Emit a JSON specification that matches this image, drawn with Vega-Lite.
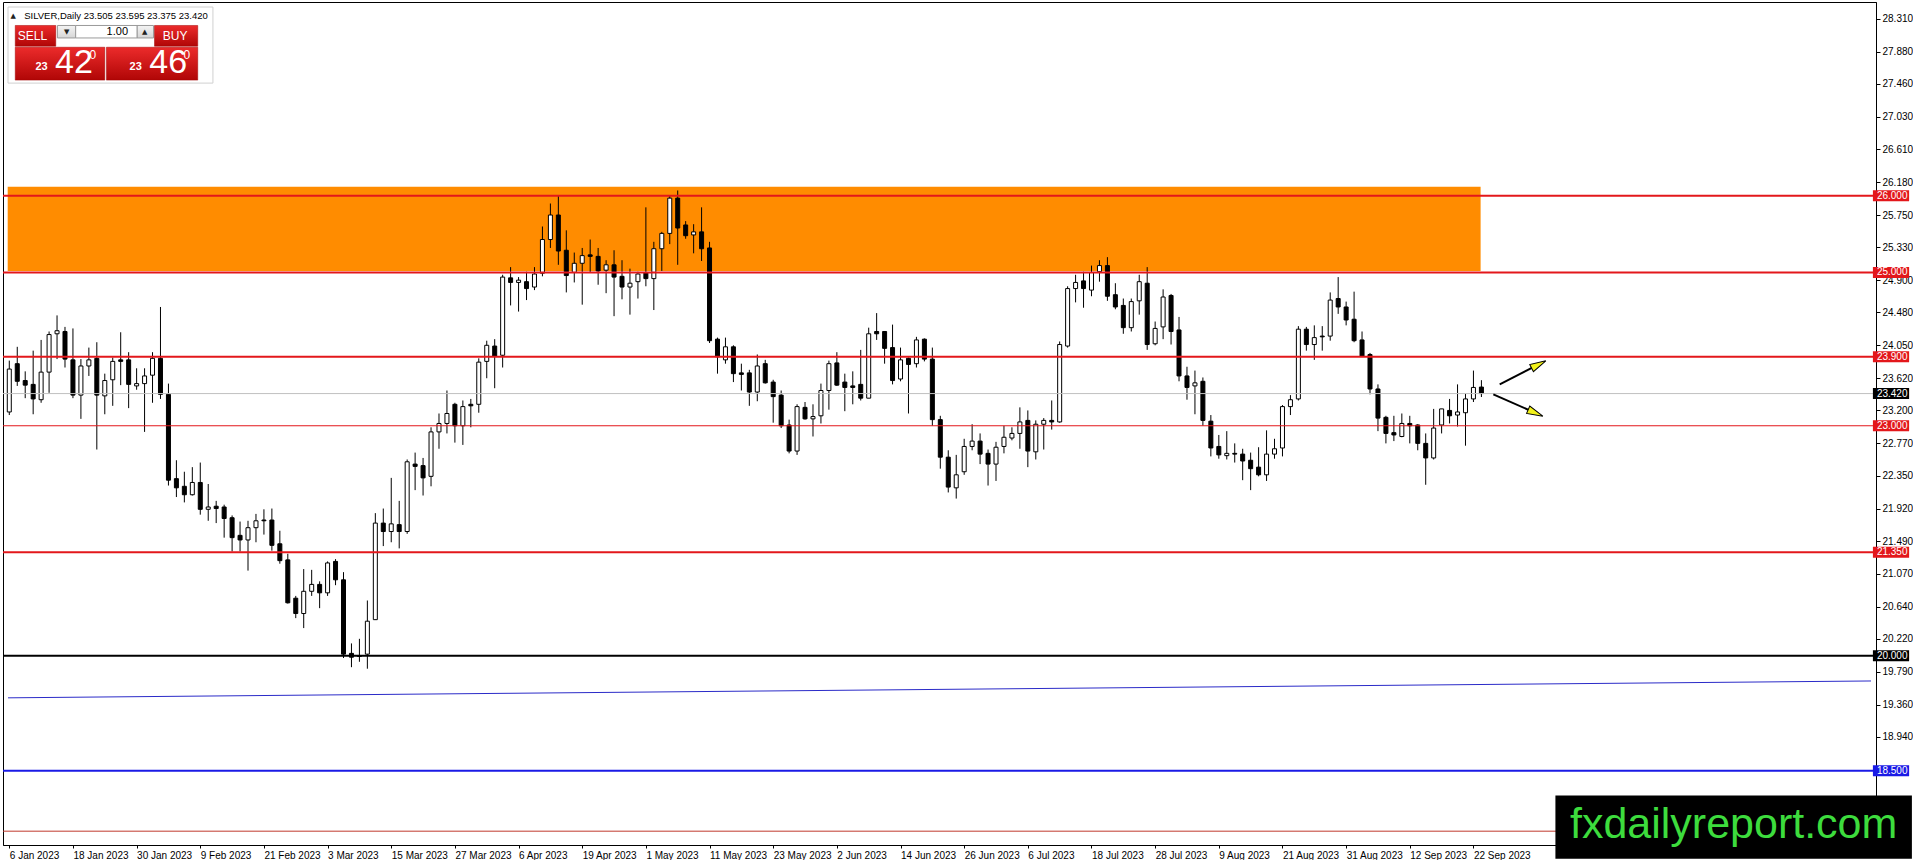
{
  "$schema": "https://vega.github.io/schema/vega-lite/v6.json",
  "width": 1873,
  "height": 843,
  "padding": {"left": 2, "top": 2, "right": 0, "bottom": 0},
  "background": "#ffffff",
  "config": {
    "view": {"stroke": "#000000", "strokeWidth": 1},
    "axis": {"labelFont": "Liberation Sans", "titleFont": "Liberation Sans", "labelOverlap": false, "labelFlush": false},
    "text": {"font": "Liberation Sans"}
  },
  "datasets": {
    "bars": [
      {"i":0,"d":"2023-01-06","o":23.18,"h":23.85,"l":23.14,"c":23.74},
      {"i":1,"d":"2023-01-09","o":23.81,"h":24.03,"l":23.52,"c":23.58},
      {"i":2,"d":"2023-01-10","o":23.59,"h":23.71,"l":23.36,"c":23.53},
      {"i":3,"d":"2023-01-11","o":23.54,"h":23.98,"l":23.15,"c":23.35},
      {"i":4,"d":"2023-01-12","o":23.34,"h":24.12,"l":23.30,"c":23.70},
      {"i":5,"d":"2023-01-13","o":23.70,"h":24.23,"l":23.43,"c":24.19},
      {"i":6,"d":"2023-01-16","o":24.20,"h":24.44,"l":23.87,"c":24.24},
      {"i":7,"d":"2023-01-17","o":24.23,"h":24.29,"l":23.76,"c":23.87},
      {"i":8,"d":"2023-01-18","o":23.86,"h":24.27,"l":23.36,"c":23.40},
      {"i":9,"d":"2023-01-19","o":23.40,"h":23.87,"l":23.09,"c":23.78},
      {"i":10,"d":"2023-01-20","o":23.78,"h":24.02,"l":23.65,"c":23.86},
      {"i":11,"d":"2023-01-23","o":23.88,"h":24.09,"l":22.69,"c":23.40},
      {"i":12,"d":"2023-01-24","o":23.39,"h":23.68,"l":23.15,"c":23.59},
      {"i":13,"d":"2023-01-25","o":23.60,"h":23.89,"l":23.26,"c":23.84},
      {"i":14,"d":"2023-01-26","o":23.86,"h":24.22,"l":23.53,"c":23.84},
      {"i":15,"d":"2023-01-27","o":23.86,"h":23.96,"l":23.23,"c":23.54},
      {"i":16,"d":"2023-01-30","o":23.52,"h":23.75,"l":23.47,"c":23.55},
      {"i":17,"d":"2023-01-31","o":23.55,"h":23.75,"l":22.92,"c":23.65},
      {"i":18,"d":"2023-02-01","o":23.66,"h":23.96,"l":23.30,"c":23.88},
      {"i":19,"d":"2023-02-02","o":23.88,"h":24.55,"l":23.35,"c":23.41},
      {"i":20,"d":"2023-02-03","o":23.41,"h":23.55,"l":22.22,"c":22.29},
      {"i":21,"d":"2023-02-06","o":22.31,"h":22.55,"l":22.07,"c":22.19},
      {"i":22,"d":"2023-02-07","o":22.21,"h":22.40,"l":22.00,"c":22.10},
      {"i":23,"d":"2023-02-08","o":22.10,"h":22.46,"l":22.09,"c":22.26},
      {"i":24,"d":"2023-02-09","o":22.26,"h":22.52,"l":21.84,"c":21.91},
      {"i":25,"d":"2023-02-10","o":21.91,"h":22.24,"l":21.76,"c":21.94},
      {"i":26,"d":"2023-02-13","o":21.95,"h":22.02,"l":21.73,"c":21.92},
      {"i":27,"d":"2023-02-14","o":21.94,"h":21.97,"l":21.54,"c":21.79},
      {"i":28,"d":"2023-02-15","o":21.80,"h":21.83,"l":21.36,"c":21.54},
      {"i":29,"d":"2023-02-16","o":21.57,"h":21.75,"l":21.36,"c":21.51},
      {"i":30,"d":"2023-02-17","o":21.51,"h":21.76,"l":21.11,"c":21.67},
      {"i":31,"d":"2023-02-20","o":21.67,"h":21.85,"l":21.48,"c":21.76},
      {"i":32,"d":"2023-02-21","o":21.77,"h":21.91,"l":21.58,"c":21.76},
      {"i":33,"d":"2023-02-22","o":21.77,"h":21.92,"l":21.37,"c":21.44},
      {"i":34,"d":"2023-02-23","o":21.46,"h":21.63,"l":21.20,"c":21.24},
      {"i":35,"d":"2023-02-24","o":21.25,"h":21.33,"l":20.68,"c":20.69},
      {"i":36,"d":"2023-02-27","o":20.75,"h":20.78,"l":20.49,"c":20.55},
      {"i":37,"d":"2023-02-28","o":20.55,"h":21.13,"l":20.36,"c":20.84},
      {"i":38,"d":"2023-03-01","o":20.84,"h":21.12,"l":20.78,"c":20.93},
      {"i":39,"d":"2023-03-02","o":20.93,"h":20.97,"l":20.62,"c":20.82},
      {"i":40,"d":"2023-03-03","o":20.82,"h":21.23,"l":20.78,"c":21.21},
      {"i":41,"d":"2023-03-06","o":21.23,"h":21.26,"l":20.92,"c":20.99},
      {"i":42,"d":"2023-03-07","o":20.99,"h":21.09,"l":19.97,"c":20.02},
      {"i":43,"d":"2023-03-08","o":20.03,"h":20.16,"l":19.85,"c":19.98},
      {"i":44,"d":"2023-03-09","o":20.00,"h":20.22,"l":19.92,"c":19.99},
      {"i":45,"d":"2023-03-10","o":20.02,"h":20.72,"l":19.83,"c":20.45},
      {"i":46,"d":"2023-03-13","o":20.47,"h":21.86,"l":20.47,"c":21.73},
      {"i":47,"d":"2023-03-14","o":21.73,"h":21.92,"l":21.43,"c":21.62},
      {"i":48,"d":"2023-03-15","o":21.62,"h":22.32,"l":21.48,"c":21.72},
      {"i":49,"d":"2023-03-16","o":21.71,"h":22.02,"l":21.40,"c":21.62},
      {"i":50,"d":"2023-03-17","o":21.62,"h":22.56,"l":21.59,"c":22.53},
      {"i":51,"d":"2023-03-20","o":22.50,"h":22.65,"l":22.16,"c":22.47},
      {"i":52,"d":"2023-03-21","o":22.48,"h":22.58,"l":22.09,"c":22.32},
      {"i":53,"d":"2023-03-22","o":22.34,"h":22.98,"l":22.21,"c":22.92},
      {"i":54,"d":"2023-03-23","o":22.92,"h":23.16,"l":22.70,"c":23.03},
      {"i":55,"d":"2023-03-24","o":23.03,"h":23.46,"l":22.90,"c":23.16},
      {"i":56,"d":"2023-03-27","o":23.28,"h":23.30,"l":22.78,"c":23.00},
      {"i":57,"d":"2023-03-28","o":23.00,"h":23.33,"l":22.75,"c":23.25},
      {"i":58,"d":"2023-03-29","o":23.28,"h":23.35,"l":22.98,"c":23.26},
      {"i":59,"d":"2023-03-30","o":23.28,"h":23.88,"l":23.17,"c":23.83},
      {"i":60,"d":"2023-03-31","o":23.84,"h":24.11,"l":23.62,"c":24.05},
      {"i":61,"d":"2023-04-03","o":24.04,"h":24.13,"l":23.49,"c":23.91},
      {"i":62,"d":"2023-04-04","o":23.92,"h":24.97,"l":23.76,"c":24.94},
      {"i":63,"d":"2023-04-05","o":24.93,"h":25.07,"l":24.57,"c":24.87},
      {"i":64,"d":"2023-04-06","o":24.87,"h":24.94,"l":24.49,"c":24.90},
      {"i":65,"d":"2023-04-10","o":24.88,"h":25.01,"l":24.64,"c":24.79},
      {"i":66,"d":"2023-04-11","o":24.81,"h":25.07,"l":24.77,"c":24.98},
      {"i":67,"d":"2023-04-12","o":24.99,"h":25.60,"l":24.95,"c":25.43},
      {"i":68,"d":"2023-04-13","o":25.43,"h":25.90,"l":25.32,"c":25.75},
      {"i":69,"d":"2023-04-14","o":25.75,"h":26.01,"l":25.10,"c":25.28},
      {"i":70,"d":"2023-04-17","o":25.29,"h":25.55,"l":24.74,"c":24.96},
      {"i":71,"d":"2023-04-18","o":25.00,"h":25.26,"l":24.87,"c":25.12},
      {"i":72,"d":"2023-04-19","o":25.12,"h":25.32,"l":24.58,"c":25.22},
      {"i":73,"d":"2023-04-20","o":25.23,"h":25.43,"l":25.00,"c":25.21},
      {"i":74,"d":"2023-04-21","o":25.21,"h":25.32,"l":24.84,"c":25.02},
      {"i":75,"d":"2023-04-24","o":25.03,"h":25.16,"l":24.73,"c":25.10},
      {"i":76,"d":"2023-04-25","o":25.10,"h":25.29,"l":24.43,"c":24.94},
      {"i":77,"d":"2023-04-26","o":24.95,"h":25.16,"l":24.65,"c":24.81},
      {"i":78,"d":"2023-04-27","o":24.81,"h":25.05,"l":24.45,"c":24.86},
      {"i":79,"d":"2023-04-28","o":24.88,"h":25.01,"l":24.66,"c":24.98},
      {"i":80,"d":"2023-05-01","o":25.00,"h":25.85,"l":24.82,"c":24.92},
      {"i":81,"d":"2023-05-02","o":24.92,"h":25.40,"l":24.51,"c":25.31},
      {"i":82,"d":"2023-05-03","o":25.31,"h":25.53,"l":25.02,"c":25.51},
      {"i":83,"d":"2023-05-04","o":25.51,"h":26.00,"l":25.37,"c":25.97},
      {"i":84,"d":"2023-05-05","o":25.97,"h":26.07,"l":25.10,"c":25.58},
      {"i":85,"d":"2023-05-08","o":25.62,"h":25.67,"l":25.44,"c":25.48},
      {"i":86,"d":"2023-05-09","o":25.49,"h":25.63,"l":25.25,"c":25.53},
      {"i":87,"d":"2023-05-10","o":25.53,"h":25.85,"l":25.15,"c":25.31},
      {"i":88,"d":"2023-05-11","o":25.32,"h":25.40,"l":24.08,"c":24.11},
      {"i":89,"d":"2023-05-12","o":24.13,"h":24.15,"l":23.68,"c":23.90},
      {"i":90,"d":"2023-05-15","o":23.86,"h":24.15,"l":23.81,"c":24.03},
      {"i":91,"d":"2023-05-16","o":24.03,"h":24.05,"l":23.57,"c":23.68},
      {"i":92,"d":"2023-05-17","o":23.69,"h":23.81,"l":23.46,"c":23.67},
      {"i":93,"d":"2023-05-18","o":23.69,"h":23.73,"l":23.26,"c":23.44},
      {"i":94,"d":"2023-05-19","o":23.44,"h":23.93,"l":23.32,"c":23.78},
      {"i":95,"d":"2023-05-22","o":23.81,"h":23.86,"l":23.55,"c":23.56},
      {"i":96,"d":"2023-05-23","o":23.57,"h":23.60,"l":23.04,"c":23.38},
      {"i":97,"d":"2023-05-24","o":23.40,"h":23.46,"l":22.97,"c":23.00},
      {"i":98,"d":"2023-05-25","o":23.01,"h":23.08,"l":22.64,"c":22.67},
      {"i":99,"d":"2023-05-26","o":22.67,"h":23.28,"l":22.62,"c":23.25},
      {"i":100,"d":"2023-05-29","o":23.24,"h":23.31,"l":23.08,"c":23.09},
      {"i":101,"d":"2023-05-30","o":23.09,"h":23.28,"l":22.86,"c":23.12},
      {"i":102,"d":"2023-05-31","o":23.13,"h":23.55,"l":23.03,"c":23.46},
      {"i":103,"d":"2023-06-01","o":23.46,"h":23.85,"l":23.21,"c":23.81},
      {"i":104,"d":"2023-06-02","o":23.82,"h":23.96,"l":23.52,"c":23.53},
      {"i":105,"d":"2023-06-05","o":23.57,"h":23.68,"l":23.19,"c":23.50},
      {"i":106,"d":"2023-06-06","o":23.52,"h":23.71,"l":23.28,"c":23.50},
      {"i":107,"d":"2023-06-07","o":23.54,"h":23.99,"l":23.33,"c":23.36},
      {"i":108,"d":"2023-06-08","o":23.36,"h":24.28,"l":23.36,"c":24.20},
      {"i":109,"d":"2023-06-09","o":24.23,"h":24.47,"l":24.12,"c":24.20},
      {"i":110,"d":"2023-06-12","o":24.23,"h":24.23,"l":23.81,"c":24.01},
      {"i":111,"d":"2023-06-13","o":24.02,"h":24.32,"l":23.54,"c":23.59},
      {"i":112,"d":"2023-06-14","o":23.61,"h":24.02,"l":23.58,"c":23.86},
      {"i":113,"d":"2023-06-15","o":23.88,"h":23.89,"l":23.16,"c":23.80},
      {"i":114,"d":"2023-06-16","o":23.81,"h":24.16,"l":23.76,"c":24.12},
      {"i":115,"d":"2023-06-19","o":24.13,"h":24.14,"l":23.84,"c":23.87},
      {"i":116,"d":"2023-06-20","o":23.87,"h":24.02,"l":23.00,"c":23.08},
      {"i":117,"d":"2023-06-21","o":23.08,"h":23.13,"l":22.44,"c":22.59},
      {"i":118,"d":"2023-06-22","o":22.59,"h":22.68,"l":22.13,"c":22.20},
      {"i":119,"d":"2023-06-23","o":22.19,"h":22.62,"l":22.05,"c":22.36},
      {"i":120,"d":"2023-06-26","o":22.40,"h":22.83,"l":22.36,"c":22.73},
      {"i":121,"d":"2023-06-27","o":22.73,"h":23.02,"l":22.68,"c":22.80},
      {"i":122,"d":"2023-06-28","o":22.80,"h":22.90,"l":22.50,"c":22.63},
      {"i":123,"d":"2023-06-29","o":22.64,"h":22.69,"l":22.22,"c":22.50},
      {"i":124,"d":"2023-06-30","o":22.50,"h":22.79,"l":22.28,"c":22.72},
      {"i":125,"d":"2023-07-03","o":22.73,"h":23.00,"l":22.64,"c":22.85},
      {"i":126,"d":"2023-07-04","o":22.84,"h":22.98,"l":22.81,"c":22.90},
      {"i":127,"d":"2023-07-05","o":22.90,"h":23.24,"l":22.70,"c":23.05},
      {"i":128,"d":"2023-07-06","o":23.07,"h":23.20,"l":22.46,"c":22.67},
      {"i":129,"d":"2023-07-07","o":22.66,"h":23.07,"l":22.56,"c":23.02},
      {"i":130,"d":"2023-07-10","o":23.02,"h":23.10,"l":22.69,"c":23.07},
      {"i":131,"d":"2023-07-11","o":23.07,"h":23.33,"l":22.95,"c":23.05},
      {"i":132,"d":"2023-07-12","o":23.05,"h":24.10,"l":23.04,"c":24.06},
      {"i":133,"d":"2023-07-13","o":24.04,"h":24.82,"l":24.02,"c":24.79},
      {"i":134,"d":"2023-07-14","o":24.79,"h":24.97,"l":24.61,"c":24.87},
      {"i":135,"d":"2023-07-17","o":24.89,"h":25.01,"l":24.54,"c":24.79},
      {"i":136,"d":"2023-07-18","o":24.77,"h":25.09,"l":24.69,"c":25.00},
      {"i":137,"d":"2023-07-19","o":25.01,"h":25.16,"l":24.88,"c":25.09},
      {"i":138,"d":"2023-07-20","o":25.09,"h":25.20,"l":24.63,"c":24.69},
      {"i":139,"d":"2023-07-21","o":24.71,"h":24.86,"l":24.52,"c":24.55},
      {"i":140,"d":"2023-07-24","o":24.57,"h":24.66,"l":24.20,"c":24.28},
      {"i":141,"d":"2023-07-25","o":24.28,"h":24.66,"l":24.23,"c":24.62},
      {"i":142,"d":"2023-07-26","o":24.63,"h":24.97,"l":24.45,"c":24.88},
      {"i":143,"d":"2023-07-27","o":24.86,"h":25.07,"l":23.99,"c":24.06},
      {"i":144,"d":"2023-07-28","o":24.07,"h":24.36,"l":24.05,"c":24.27},
      {"i":145,"d":"2023-07-31","o":24.29,"h":24.78,"l":24.13,"c":24.68},
      {"i":146,"d":"2023-08-01","o":24.70,"h":24.72,"l":24.06,"c":24.23},
      {"i":147,"d":"2023-08-02","o":24.25,"h":24.42,"l":23.58,"c":23.65},
      {"i":148,"d":"2023-08-03","o":23.65,"h":23.77,"l":23.34,"c":23.50},
      {"i":149,"d":"2023-08-04","o":23.52,"h":23.72,"l":23.15,"c":23.56},
      {"i":150,"d":"2023-08-07","o":23.58,"h":23.63,"l":23.00,"c":23.07},
      {"i":151,"d":"2023-08-08","o":23.06,"h":23.14,"l":22.60,"c":22.71},
      {"i":152,"d":"2023-08-09","o":22.73,"h":22.88,"l":22.57,"c":22.62},
      {"i":153,"d":"2023-08-10","o":22.61,"h":22.93,"l":22.56,"c":22.64},
      {"i":154,"d":"2023-08-11","o":22.64,"h":22.77,"l":22.52,"c":22.63},
      {"i":155,"d":"2023-08-14","o":22.63,"h":22.70,"l":22.29,"c":22.54},
      {"i":156,"d":"2023-08-15","o":22.55,"h":22.65,"l":22.16,"c":22.44},
      {"i":157,"d":"2023-08-16","o":22.46,"h":22.72,"l":22.34,"c":22.36},
      {"i":158,"d":"2023-08-17","o":22.36,"h":22.94,"l":22.28,"c":22.63},
      {"i":159,"d":"2023-08-18","o":22.63,"h":22.83,"l":22.57,"c":22.70},
      {"i":160,"d":"2023-08-21","o":22.71,"h":23.27,"l":22.60,"c":23.25},
      {"i":161,"d":"2023-08-22","o":23.25,"h":23.40,"l":23.14,"c":23.34},
      {"i":162,"d":"2023-08-23","o":23.35,"h":24.30,"l":23.33,"c":24.26},
      {"i":163,"d":"2023-08-24","o":24.26,"h":24.29,"l":23.98,"c":24.06},
      {"i":164,"d":"2023-08-25","o":24.06,"h":24.31,"l":23.86,"c":24.15},
      {"i":165,"d":"2023-08-28","o":24.17,"h":24.30,"l":23.98,"c":24.16},
      {"i":166,"d":"2023-08-29","o":24.17,"h":24.74,"l":24.11,"c":24.64},
      {"i":167,"d":"2023-08-30","o":24.66,"h":24.94,"l":24.46,"c":24.55},
      {"i":168,"d":"2023-08-31","o":24.55,"h":24.62,"l":24.31,"c":24.38},
      {"i":169,"d":"2023-09-01","o":24.39,"h":24.75,"l":24.09,"c":24.11},
      {"i":170,"d":"2023-09-04","o":24.12,"h":24.23,"l":23.90,"c":23.91},
      {"i":171,"d":"2023-09-05","o":23.93,"h":23.95,"l":23.41,"c":23.48},
      {"i":172,"d":"2023-09-06","o":23.48,"h":23.54,"l":22.93,"c":23.10},
      {"i":173,"d":"2023-09-07","o":23.11,"h":23.13,"l":22.77,"c":22.90},
      {"i":174,"d":"2023-09-08","o":22.91,"h":23.13,"l":22.80,"c":22.88},
      {"i":175,"d":"2023-09-11","o":22.86,"h":23.16,"l":22.85,"c":23.03},
      {"i":176,"d":"2023-09-12","o":23.03,"h":23.13,"l":22.77,"c":23.00},
      {"i":177,"d":"2023-09-13","o":23.01,"h":23.02,"l":22.68,"c":22.77},
      {"i":178,"d":"2023-09-14","o":22.77,"h":22.90,"l":22.23,"c":22.58},
      {"i":179,"d":"2023-09-15","o":22.58,"h":23.22,"l":22.56,"c":22.97},
      {"i":180,"d":"2023-09-18","o":23.01,"h":23.22,"l":22.90,"c":23.22},
      {"i":181,"d":"2023-09-19","o":23.20,"h":23.35,"l":23.03,"c":23.13},
      {"i":182,"d":"2023-09-20","o":23.14,"h":23.54,"l":22.99,"c":23.18},
      {"i":183,"d":"2023-09-21","o":23.17,"h":23.42,"l":22.74,"c":23.35},
      {"i":184,"d":"2023-09-22","o":23.35,"h":23.72,"l":23.31,"c":23.50},
      {"i":185,"d":"2023-09-25","o":23.505,"h":23.595,"l":23.375,"c":23.42}
    ],
    "zone": [{"x0": -0.2, "x1": 184.9, "lo": 25.02, "hi": 26.12}],
    "levels": [
      {"p": 26.0, "kind": "res"},
      {"p": 25.0, "kind": "res"},
      {"p": 23.9, "kind": "res"},
      {"p": 23.42, "kind": "bid"},
      {"p": 23.0, "kind": "mid"},
      {"p": 21.35, "kind": "res"},
      {"p": 20.0, "kind": "round"},
      {"p": 18.5, "kind": "sup"},
      {"p": 17.71, "kind": "base"}
    ],
    "trend": [
      {"i": -0.16, "p": 19.45},
      {"i": 233.96, "p": 19.67}
    ],
    "arrows": [
      {"a": "up", "x0": 187.3, "y0": 23.54, "x1": 192.2, "y1": 23.80},
      {"a": "down", "x0": 186.5, "y0": 23.41, "x1": 191.8, "y1": 23.167}
    ],
    "panel": [
      {"k": "frame", "x0": -0.16, "x1": 25.59, "y0": 28.464, "y1": 27.471},
      {"k": "red", "x0": 0.75, "x1": 5.84, "y0": 28.223, "y1": 27.952},
      {"k": "btn", "x0": 6.05, "x1": 8.34, "y0": 28.223, "y1": 28.06},
      {"k": "field", "x0": 8.34, "x1": 16.05, "y0": 28.223, "y1": 28.06},
      {"k": "btn", "x0": 16.05, "x1": 18.13, "y0": 28.223, "y1": 28.06},
      {"k": "red", "x0": 18.25, "x1": 23.68, "y0": 28.223, "y1": 27.952},
      {"k": "red", "x0": 0.75, "x1": 12.0, "y0": 27.939, "y1": 27.51},
      {"k": "red", "x0": 12.21, "x1": 23.68, "y0": 27.939, "y1": 27.51}
    ],
    "ptext": [
      {"k": "icon", "x": 0.5, "y": 28.348, "t": "▲"},
      {"k": "title", "x": 1.875, "y": 28.348, "t": "SILVER,Daily  23.505 23.595 23.375 23.420"},
      {"k": "btn", "x": 2.92, "y": 28.09, "t": "SELL"},
      {"k": "btn", "x": 20.84, "y": 28.09, "t": "BUY"},
      {"k": "icon", "x": 7.21, "y": 28.142, "t": "▼"},
      {"k": "icon", "x": 17.0, "y": 28.142, "t": "▲"},
      {"k": "lot", "x": 14.92, "y": 28.142, "t": "1.00"},
      {"k": "small", "x": 4.05, "y": 27.677, "t": "23"},
      {"k": "small", "x": 15.88, "y": 27.677, "t": "23"},
      {"k": "big", "x": 8.13, "y": 27.738, "t": "42"},
      {"k": "big", "x": 19.96, "y": 27.738, "t": "46"},
      {"k": "sup", "x": 10.5, "y": 27.832, "t": "0"},
      {"k": "sup", "x": 22.3, "y": 27.832, "t": "0"}
    ],
    "mark": [
      {"x0": 194.3, "x1": 239.1, "y0": 18.175, "y1": 17.35, "tx": 216.7, "ty": 17.62, "t": "fxdailyreport.com"}
    ]
  },
  "layer": [
    {
      "data": {"name": "zone"},
      "mark": {"type": "rect", "color": "#ff8c00", "clip": true},
      "encoding": {
        "x": {"field": "x0", "type": "quantitative", "title": null,
          "scale": {"domain": [-0.1625, 233.96], "nice": false, "zero": false},
          "axis": {
            "orient": "bottom",
            "values": [0, 8, 16, 24, 32, 40, 48, 56, 64, 72, 80, 88, 96, 104, 112, 120, 128, 136, 144, 152, 160, 168, 176, 184],
            "tickCount": 100,
            "labelExpr": "['6 Jan 2023','18 Jan 2023','30 Jan 2023','9 Feb 2023','21 Feb 2023','3 Mar 2023','15 Mar 2023','27 Mar 2023','6 Apr 2023','19 Apr 2023','1 May 2023','11 May 2023','23 May 2023','2 Jun 2023','14 Jun 2023','26 Jun 2023','6 Jul 2023','18 Jul 2023','28 Jul 2023','9 Aug 2023','21 Aug 2023','31 Aug 2023','12 Sep 2023','22 Sep 2023'][round(datum.value / 8)]",
            "labelAlign": "left", "labelDx": -1, "labelFontSize": 10, "labelColor": "#000000",
            "labelPadding": 2, "tickSize": 3, "tickColor": "#000000", "domainColor": "#000000",
            "grid": false, "labelOverlap": false, "labelFlush": false, "zindex": 0
          }},
        "x2": {"field": "x1"},
        "y": {"field": "lo", "type": "quantitative", "title": null,
          "scale": {"domain": [17.595, 28.464], "nice": false, "zero": false},
          "axis": {
            "orient": "right",
            "values": [28.31, 27.88, 27.46, 27.03, 26.61, 26.18, 25.75, 25.33, 24.9, 24.48, 24.05, 23.62, 23.2, 22.77, 22.35, 21.92, 21.49, 21.07, 20.64, 20.22, 19.79, 19.36, 18.94],
            "tickCount": 100,
            "format": ".3f", "labelFontSize": 10, "labelColor": "#000000", "labelPadding": 2,
            "tickSize": 4, "tickColor": "#000000", "domainColor": "#000000",
            "grid": false, "labelOverlap": false, "labelFlush": false, "zindex": 0
          }},
        "y2": {"field": "hi"}
      }
    },
    {
      "data": {"name": "bars"},
      "mark": {"type": "rule", "color": "#000000", "strokeWidth": 1, "clip": true},
      "encoding": {
        "x": {"field": "i", "type": "quantitative", "title": null},
        "y": {"field": "l", "type": "quantitative", "title": null},
        "y2": {"field": "h"}
      }
    },
    {
      "data": {"name": "bars"},
      "mark": {"type": "bar", "size": 4, "stroke": "#000000", "strokeWidth": 1, "clip": true},
      "encoding": {
        "x": {"field": "i", "type": "quantitative", "title": null},
        "y": {"field": "o", "type": "quantitative", "title": null},
        "y2": {"field": "c"},
        "fill": {"condition": {"test": "datum.c >= datum.o", "value": "#ffffff"}, "value": "#000000"}
      }
    },
    {
      "data": {"name": "levels"},
      "transform": [{"filter": "indexof(['res','round','sup'], datum.kind) >= 0"}],
      "mark": {"type": "rule", "strokeWidth": 2},
      "encoding": {
        "y": {"field": "p", "type": "quantitative", "title": null},
        "color": {"field": "kind", "type": "nominal", "legend": null,
          "scale": {"domain": ["res", "mid", "round", "sup", "bid", "base"], "range": ["#e3171b", "#e3171b", "#000000", "#1a1ae6", "#c0c0c0", "#c0392b"]}}
      }
    },
    {
      "data": {"name": "levels"},
      "transform": [{"filter": "indexof(['res','round','sup'], datum.kind) < 0"}],
      "mark": {"type": "rule", "strokeWidth": 1},
      "encoding": {
        "y": {"field": "p", "type": "quantitative", "title": null},
        "color": {"field": "kind", "type": "nominal", "legend": null}
      }
    },
    {
      "data": {"name": "trend"},
      "mark": {"type": "line", "color": "#2b2bc8", "strokeWidth": 1, "clip": true},
      "encoding": {
        "x": {"field": "i", "type": "quantitative", "title": null},
        "y": {"field": "p", "type": "quantitative", "title": null}
      }
    },
    {
      "data": {"name": "levels"},
      "transform": [{"filter": "datum.kind != 'base'"}],
      "mark": {"type": "bar", "orient": "horizontal", "size": 11},
      "encoding": {
        "x": {"datum": 234.2, "type": "quantitative", "title": null},
        "x2": {"datum": 238.75},
        "y": {"field": "p", "type": "quantitative", "title": null},
        "color": {"condition": {"test": "datum.kind == 'bid'", "value": "#000000"}, "field": "kind", "type": "nominal", "legend": null}
      }
    },
    {
      "data": {"name": "levels"},
      "transform": [{"filter": "datum.kind != 'base'"}],
      "mark": {"type": "text", "align": "left", "baseline": "middle", "color": "#ffffff", "fontSize": 10},
      "encoding": {
        "x": {"datum": 234.7, "type": "quantitative", "title": null},
        "y": {"field": "p", "type": "quantitative", "title": null},
        "text": {"field": "p", "type": "quantitative", "format": ".3f"}
      }
    },
    {
      "data": {"name": "panel"},
      "transform": [{"filter": "datum.k == 'frame'"}],
      "mark": {"type": "rect", "fill": "#ffffff", "stroke": "#d0d0d0", "strokeWidth": 1},
      "encoding": {
        "x": {"field": "x0", "type": "quantitative", "title": null},
        "x2": {"field": "x1"},
        "y": {"field": "y0", "type": "quantitative", "title": null},
        "y2": {"field": "y1"}
      }
    },
    {
      "data": {"name": "panel"},
      "transform": [{"filter": "datum.k == 'btn'"}],
      "mark": {"type": "rect", "stroke": "#9a9a9a", "strokeWidth": 1,
        "fill": {"gradient": "linear", "x1": 0, "y1": 0, "x2": 0, "y2": 1, "stops": [{"offset": 0, "color": "#f4f4f4"}, {"offset": 1, "color": "#d6d6d6"}]}},
      "encoding": {
        "x": {"field": "x0", "type": "quantitative", "title": null},
        "x2": {"field": "x1"},
        "y": {"field": "y0", "type": "quantitative", "title": null},
        "y2": {"field": "y1"}
      }
    },
    {
      "data": {"name": "panel"},
      "transform": [{"filter": "datum.k == 'field'"}],
      "mark": {"type": "rect", "fill": "#ffffff", "stroke": "#9a9a9a", "strokeWidth": 1},
      "encoding": {
        "x": {"field": "x0", "type": "quantitative", "title": null},
        "x2": {"field": "x1"},
        "y": {"field": "y0", "type": "quantitative", "title": null},
        "y2": {"field": "y1"}
      }
    },
    {
      "data": {"name": "panel"},
      "transform": [{"filter": "datum.k == 'red'"}],
      "mark": {"type": "rect", "stroke": "#a00000", "strokeWidth": 0.5,
        "fill": {"gradient": "linear", "x1": 0, "y1": 0, "x2": 0, "y2": 1, "stops": [{"offset": 0, "color": "#ec2b2b"}, {"offset": 1, "color": "#b00606"}]}},
      "encoding": {
        "x": {"field": "x0", "type": "quantitative", "title": null},
        "x2": {"field": "x1"},
        "y": {"field": "y0", "type": "quantitative", "title": null},
        "y2": {"field": "y1"}
      }
    },
    {
      "data": {"name": "ptext"},
      "transform": [{"filter": "datum.k == 'icon'"}],
      "mark": {"type": "text", "align": "center", "baseline": "middle", "font": "DejaVu Sans", "fontSize": 7, "color": "#222222"},
      "encoding": {
        "x": {"field": "x", "type": "quantitative", "title": null},
        "y": {"field": "y", "type": "quantitative", "title": null},
        "text": {"field": "t"}
      }
    },
    {
      "data": {"name": "ptext"},
      "transform": [{"filter": "datum.k == 'title'"}],
      "mark": {"type": "text", "align": "left", "baseline": "middle", "fontSize": 9.5, "color": "#000000"},
      "encoding": {
        "x": {"field": "x", "type": "quantitative", "title": null},
        "y": {"field": "y", "type": "quantitative", "title": null},
        "text": {"field": "t"}
      }
    },
    {
      "data": {"name": "ptext"},
      "transform": [{"filter": "datum.k == 'btn'"}],
      "mark": {"type": "text", "align": "center", "baseline": "middle", "fontSize": 12, "color": "#ffffff"},
      "encoding": {
        "x": {"field": "x", "type": "quantitative", "title": null},
        "y": {"field": "y", "type": "quantitative", "title": null},
        "text": {"field": "t"}
      }
    },
    {
      "data": {"name": "ptext"},
      "transform": [{"filter": "datum.k == 'lot'"}],
      "mark": {"type": "text", "align": "right", "baseline": "middle", "fontSize": 11, "color": "#000000"},
      "encoding": {
        "x": {"field": "x", "type": "quantitative", "title": null},
        "y": {"field": "y", "type": "quantitative", "title": null},
        "text": {"field": "t"}
      }
    },
    {
      "data": {"name": "ptext"},
      "transform": [{"filter": "datum.k == 'small'"}],
      "mark": {"type": "text", "align": "center", "baseline": "middle", "fontSize": 11, "fontWeight": "bold", "color": "#ffffff"},
      "encoding": {
        "x": {"field": "x", "type": "quantitative", "title": null},
        "y": {"field": "y", "type": "quantitative", "title": null},
        "text": {"field": "t"}
      }
    },
    {
      "data": {"name": "ptext"},
      "transform": [{"filter": "datum.k == 'big'"}],
      "mark": {"type": "text", "align": "center", "baseline": "middle", "fontSize": 34, "color": "#ffffff"},
      "encoding": {
        "x": {"field": "x", "type": "quantitative", "title": null},
        "y": {"field": "y", "type": "quantitative", "title": null},
        "text": {"field": "t"}
      }
    },
    {
      "data": {"name": "ptext"},
      "transform": [{"filter": "datum.k == 'sup'"}],
      "mark": {"type": "text", "align": "center", "baseline": "middle", "fontSize": 12, "color": "#ffffff"},
      "encoding": {
        "x": {"field": "x", "type": "quantitative", "title": null},
        "y": {"field": "y", "type": "quantitative", "title": null},
        "text": {"field": "t"}
      }
    },
    {
      "data": {"name": "arrows"},
      "mark": {"type": "rule", "color": "#000000", "strokeWidth": 2},
      "encoding": {
        "x": {"field": "x0", "type": "quantitative", "title": null},
        "y": {"field": "y0", "type": "quantitative", "title": null},
        "x2": {"field": "x1"},
        "y2": {"field": "y1"}
      }
    },
    {
      "data": {"name": "arrows"},
      "transform": [{"filter": "datum.a == 'up'"}],
      "mark": {"type": "point", "shape": "M0,-1L0.5,1L-0.5,1Z", "filled": true, "fill": "#f2f21a", "stroke": "#000000", "strokeWidth": 1, "size": 256, "angle": 62.7, "opacity": 1},
      "encoding": {
        "x": {"field": "x1", "type": "quantitative", "title": null},
        "y": {"field": "y1", "type": "quantitative", "title": null}
      }
    },
    {
      "data": {"name": "arrows"},
      "transform": [{"filter": "datum.a == 'down'"}],
      "mark": {"type": "point", "shape": "M0,-1L0.5,1L-0.5,1Z", "filled": true, "fill": "#f2f21a", "stroke": "#000000", "strokeWidth": 1, "size": 256, "angle": 113.6, "opacity": 1},
      "encoding": {
        "x": {"field": "x1", "type": "quantitative", "title": null},
        "y": {"field": "y1", "type": "quantitative", "title": null}
      }
    },
    {
      "data": {"name": "mark"},
      "mark": {"type": "rect", "color": "#000000"},
      "encoding": {
        "x": {"field": "x0", "type": "quantitative", "title": null},
        "x2": {"field": "x1"},
        "y": {"field": "y0", "type": "quantitative", "title": null},
        "y2": {"field": "y1"}
      }
    },
    {
      "data": {"name": "mark"},
      "mark": {"type": "text", "align": "center", "baseline": "alphabetic", "fontSize": 43, "color": "#3ddc3d"},
      "encoding": {
        "x": {"field": "tx", "type": "quantitative", "title": null},
        "y": {"field": "ty", "type": "quantitative", "title": null},
        "text": {"field": "t"}
      }
    }
  ]
}
